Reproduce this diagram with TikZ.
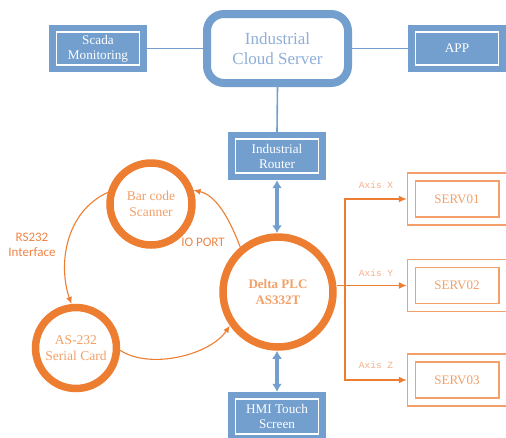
\documentclass[tikz,border=0pt]{standalone}
\usepackage{fontspec}
\setmainfont{Liberation Serif}
\newfontfamily\labelfont{Carlito}
\newfontfamily\axisfont{Liberation Mono}
\usetikzlibrary{arrows.meta,calc}

\definecolor{boxblue}{HTML}{739FCE}
\definecolor{cloudtext}{HTML}{8EAFD8}
\definecolor{ringorange}{HTML}{ED7D31}
\definecolor{ringtext}{HTML}{F2A068}
\definecolor{labelorange}{HTML}{EF8446}
\definecolor{axisorange}{HTML}{F5B088}
\definecolor{servline}{HTML}{F3A06A}

\tikzset{
  bluebox/.style={rectangle, fill=boxblue, draw=none, text=white,
    minimum width=98pt, minimum height=47pt, align=center, inner sep=0pt,
    font=\fontsize{13.2}{15}\selectfont,
    path picture={\draw[white, line width=1.1pt]
      ($(path picture bounding box.south west)+(7.5pt,7pt)$) rectangle
      ($(path picture bounding box.north east)-(7.5pt,7pt)$);}},
  servbox/.style={rectangle, fill=white, draw=servline, line width=1.4pt,
    minimum width=99pt, minimum height=52pt, inner sep=0pt, text=ringtext,
    font=\fontsize{13}{15}\selectfont,
    path picture={\draw[servline, line width=1.4pt]
      ($(path picture bounding box.south west)+(8pt,8pt)$) rectangle
      ($(path picture bounding box.north east)-(7.5pt,8pt)$);}},
  ring/.style={circle, draw=ringorange, fill=white, line width=7.5pt,
    inner sep=0pt, align=center, text=ringtext,
    font=\fontsize{13.5}{15.5}\selectfont},
  blueline/.style={draw=boxblue, line width=1.6pt},
  bluearrow/.style={draw=boxblue, line width=3.6pt,
    {Latex[length=8pt,width=10pt]}-{Latex[length=8pt,width=10pt]}},
  flow/.style={draw=ringorange, line width=1.1pt, -{Latex[length=7pt,width=6pt]}},
  busline/.style={draw=ringorange, line width=1.4pt},
  busarrow/.style={busline, -{Latex[length=8pt,width=7pt]}},
  sidelabel/.style={text=labelorange, align=center,
    font=\labelfont\fontsize{13}{15}\selectfont},
  axislabel/.style={text=axisorange, font=\axisfont\fontsize{9.5}{11}\selectfont}
}

\begin{document}
\begin{tikzpicture}[x=1pt, y=-1pt]
\useasboundingbox (0,0) rectangle (506,437);

% cloud layer
\node[bluebox] (scada) at (98,48.5) {Scada\\Monitoring};
\node[bluebox] (app) at (457,48.5) {APP};
\node[rectangle, rounded corners=17pt, draw=boxblue, fill=white, line width=8pt,
  minimum width=141pt, minimum height=69pt, align=center, text=cloudtext,
  font=\fontsize{17}{20}\selectfont] (cloud) at (277.5,48.5) {Industrial\\Cloud Server};

\draw[blueline] (scada.east) -- (cloud.west);
\draw[blueline] (cloud.east) -- (app.west);

% router, controller and HMI
\node[bluebox, minimum height=48pt] (router) at (277,156) {Industrial\\Router};
\draw[blueline] (cloud.south) -- (router.north);

\node[ring, minimum size=110pt, font=\bfseries\fontsize{13}{15.5}\selectfont] (plc) at (278,292) {Delta PLC\\AS332T};
\node[bluebox, minimum height=49pt] (hmi) at (277,416.5) {HMI Touch\\Screen};

\draw[bluearrow] (router.south) -- (router.south |- plc.north);
\draw[bluearrow] (hmi.north |- plc.south) -- (hmi.north);

% scanner loop
\node[ring, minimum size=82pt] (scan) at (151,204) {Bar code\\Scanner};
\node[ring, minimum size=81pt] (card) at (76,348) {AS-232\\Serial Card};

\draw[flow] (scan.165) .. controls (65,212) and (58,265) .. (card.96);
\draw[flow] (plc.130) .. controls (228,215) and (215,195) .. (scan.18);
\draw[flow] (card.-3) .. controls (150,370) and (210,355) .. (plc.-145);

\node[sidelabel] (rs) at (32,245) {RS232\\Interface};
\node[sidelabel] (io) at (203,242) {IO PORT};

% servo drives
\node[servbox] (s1) at (457,199) {SERV01};
\node[servbox] (s2) at (457,285.5) {SERV02};
\node[servbox] (s3) at (457,380) {SERV03};

\coordinate (bus) at (345,285.5);
\draw[busarrow] (plc.east |- s2.west) -- (s2.west);
\draw[busarrow] (bus) |- (s1.west);
\draw[busarrow] (bus) |- (s3.west);

\node[axislabel] (ax) at (376,185) {Axis X};
\node[axislabel] (ay) at (376,273) {Axis Y};
\node[axislabel] (az) at (376,365) {Axis Z};
\end{tikzpicture}
\end{document}
